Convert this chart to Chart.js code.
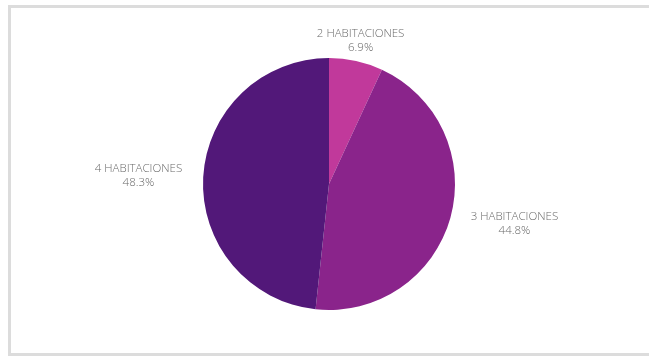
<!DOCTYPE html>
<html>
<head>
<meta charset="utf-8">
<script src="https://cdn.jsdelivr.net/npm/chart.js@4"></script>
<style>
  html, body { margin: 0; padding: 0; background: #fff; overflow: hidden; }
  #wrap { position: relative; width: 649px; height: 356px; }
  #frame {
    position: absolute; left: 8px; top: 5px; width: 700px; height: 345px;
    border: 3px solid #dcdcdc; box-sizing: content-box;
  }
  #chart { position: absolute; left: 0; top: 0; }
</style>
</head>
<body>
<div id="wrap">
  <div id="frame"></div>
  <canvas id="chart" width="649" height="356"></canvas>
</div>
<script>
const categories = ['2 HABITACIONES', '3 HABITACIONES', '4 HABITACIONES'];
const shares = [6.9, 44.8, 48.3];
const sliceColors = ['#c1399b', '#8a248b', '#521879'];

// two-line label block just outside each slice; lines centred inside the block
const outsideLabels = {
  id: 'outsideLabels',
  afterDatasetsDraw(chart) {
    const ctx = chart.ctx;
    const meta = chart.getDatasetMeta(0);
    ctx.save();
    ctx.font = '300 11.5px "Open Sans", sans-serif';
    ctx.fillStyle = '#6a6a6a';
    ctx.textBaseline = 'middle';
    ctx.textAlign = 'center';
    meta.data.forEach((arc, i) => {
      const mid = (arc.startAngle + arc.endAngle) / 2;
      const r = arc.outerRadius + 21;
      const x = arc.x + Math.cos(mid) * r;
      const y = arc.y + Math.sin(mid) * r;
      const c = Math.cos(mid);
      const name = chart.data.labels[i];
      const pct = chart.data.datasets[0].data[i].toFixed(1) + '%';
      const w = Math.max(ctx.measureText(name).width, ctx.measureText(pct).width);
      let cx = x;
      if (Math.abs(c) >= 0.3) cx = c > 0 ? x + w / 2 : x - w / 2;
      ctx.fillText(name, cx, y - 7);
      ctx.fillText(pct, cx, y + 7);
    });
    ctx.restore();
  }
};

new Chart(document.getElementById('chart'), {
  type: 'pie',
  data: {
    labels: categories,
    datasets: [{
      data: shares,
      backgroundColor: sliceColors,
      borderWidth: 0
    }]
  },
  options: {
    responsive: false,
    animation: false,
    layout: { padding: { top: 58, bottom: 46, left: 9, right: 0 } },
    plugins: {
      legend: { display: false },
      tooltip: { enabled: false }
    }
  },
  plugins: [outsideLabels]
});
</script>
</body>
</html>
